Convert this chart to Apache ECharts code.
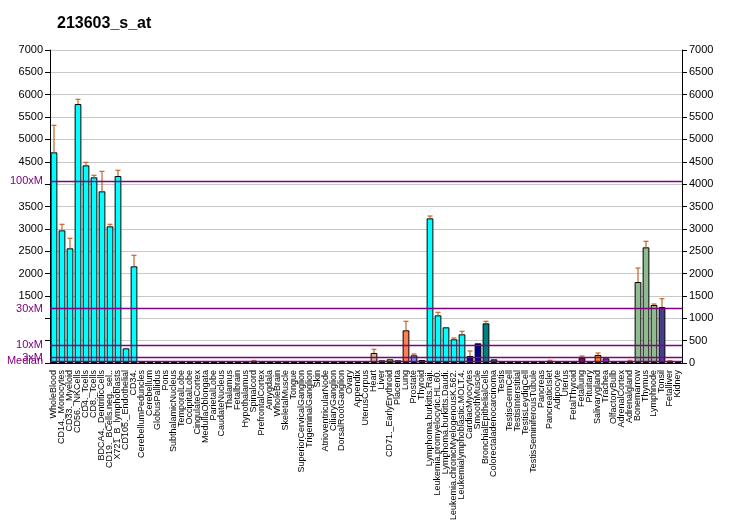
<!DOCTYPE html>
<html>
<head>
<meta charset="utf-8">
<script src="https://cdn.jsdelivr.net/npm/echarts@6/dist/echarts.min.js"></script>
<style>html,body{margin:0;padding:0;background:#fff;}#c{width:732px;height:530px;}</style>
</head>
<body>
<div id="c"></div>
<script>
const title = "213603_s_at";
const categories = ["WholeBlood","CD14._Monocytes","CD33._Myeloid","CD56._NKCells","CD4._Tcells","CD8._Tcells","BDCA4._DentriticCells","CD19._BCells.neg._sel..","X721_B_lymphoblasts","CD105._Endothelial","CD34.","CerebellumPeduncles","Cerebellum","GlobusPallidus","Pons","SubthalamicNucleus","TemporalLobe","OccipitalLobe","CingulateCortex","MedullaOblongata","ParietalLobe","CaudateNucleus","Thalamus","Fetalbrain","Hypothalamus","Spinalcord","PrefrontalCortex","Amygdala","WholeBrain","SkeletalMuscle","Tongue","SuperiorCervicalGanglion","TrigeminalGanglion","Skin","AtrioventricularNode","CiliaryGanglion","DorsalRootGanglion","Ovary","Appendix","UterusCorpus","Heart","Liver","CD71._EarlyErythroid","Placenta","Lung","Prostate","Thyroid","Lymphoma.burkitts.Raji.","Leukemia.promyelocytic.HL.60.","Lymphoma.burkitts.Daudi.","Leukemia.chronicMyelogenousK.562.","Leukemialymphoblastic.MOLT.4.","CardiacMyocytes","SmoothMuscle","BronchialEpithelialCells","Colorectaladenocarcinoma","Testis","TestisGermCell","TestisInterstitial","TestisLeydigCell","TestisSeminiferousTubule","Pancreas","PancreaticIslet","Adipocyte","Uterus","FetalThyroid","Fetallung","Pituitary","Salivarygland","Trachea","OlfactoryBulb","AdrenalCortex","Adrenalgland","Bonemarrow","Thymus","Lymphnode","Tonsil","Fetalliver","Kidney"];
const values = [4711,2967,2565,5791,4420,4152,3839,3056,4181,328,2162,
  30,25,28,30,35,25,28,30,26,28,30,27,28,30,38,28,35,30,28,26,30,27,28,26,30,28,27,30,35,
  224,60,83,60,731,172,67,3235,1066,798,530,641,156,440,887,82,
  30,25,25,28,25,22,28,30,30,35,119,30,179,105,30,28,30,1811,2587,1297,1252,28,22];
const errorTops = [5315,3101,2788,5896,4487,4197,4286,3101,4308,null,2408,
  null,null,null,null,null,null,null,null,null,null,null,null,null,null,55,null,null,null,null,null,null,null,null,null,null,null,null,null,null,
  306,null,null,null,932,201,null,3287,1133,null,559,708,268,null,932,null,
  null,null,null,null,null,null,60,null,null,null,156,null,224,null,null,null,60,2124,2721,1319,1438,52,null];
const colors = ["#00ffff","#00ffff","#00ffff","#00ffff","#00ffff","#00ffff","#00ffff","#00ffff","#00ffff","#00ffff","#00ffff",
  "#8b4513","#a0522d","#6b8e23","#556b2f","#228b22","#8b4513","#a0522d","#6b8e23","#556b2f","#8b4513","#a0522d","#6b8e23","#556b2f","#8b4513","#a0522d","#556b2f","#228b22","#8b4513","#a0522d","#6b8e23","#556b2f","#8b4513","#a0522d","#6b8e23","#556b2f","#8b4513","#a0522d","#6b8e23","#cd853f",
  "#deb887","#778899","#7cfc00","#e9692c","#ff7f50","#7b8cee","#dc143c","#00ffff","#00ffff","#00ffff","#00ffff","#00ffff","#000080","#00008b","#008080","#008080",
  "#800000","#800000","#800000","#800000","#800000","#8b0000","#cd5c5c","#40e0d0","#d2b48c","#8b008b","#800080","#556b2f","#ff8c00","#9932cc","#2f4f4f","#4b0082","#cd5c5c","#8fbc8f","#8fbc8f","#8fbc8f","#483d8b","#8b4513","#4b0082"];
const medianValue = 40.6;
const medianMultiples = [1, 3, 10, 30, 100];
const medianLabels = ["Median", "3xM", "10xM", "30xM", "100xM"];
const hiddenLeftTicks = [0, 500, 1000, 4000];

const chart = echarts.init(document.getElementById('c'));
const font = 'Arial, "Liberation Sans", sans-serif';
const errData = [];
errorTops.forEach((e, i) => { if (e !== null) errData.push([i, e, values[i]]); });

chart.setOption({
  animation: false,
  title: { text: title, left: 52, top: 11, textStyle: { fontFamily: font, fontSize: 16, fontWeight: 'bold', color: '#000' } },
  grid: { left: 50, right: 50, top: 50, bottom: 167 },
  xAxis: {
    type: 'category', data: categories,
    axisLine: { lineStyle: { color: '#000', width: 1 } },
    axisTick: { interval: 0, length: 5, lineStyle: { color: '#000' } },
    axisLabel: { interval: 0, rotate: 90, fontFamily: font, fontSize: 9, color: '#000', margin: 7 }
  },
  yAxis: [
    { type: 'value', min: 0, max: 7000, interval: 500, position: 'left',
      axisLine: { show: true, lineStyle: { color: '#000' } },
      axisTick: { show: true, length: 5, lineStyle: { color: '#000' } },
      splitLine: { show: true, lineStyle: { color: '#c8c8c8', width: 1 } },
      axisLabel: { fontFamily: font, fontSize: 11, color: '#000', margin: 7,
        formatter: v => hiddenLeftTicks.includes(v) ? '' : String(v) } },
    { type: 'value', min: 0, max: 7000, interval: 500, position: 'right',
      axisLine: { show: true, lineStyle: { color: '#000' } },
      axisTick: { show: true, length: 5, lineStyle: { color: '#000' } },
      splitLine: { show: false },
      axisLabel: { fontFamily: font, fontSize: 11, color: '#000', margin: 7, formatter: v => String(v) } }
  ],
  series: [
    { type: 'bar', data: values.map((v, i) => ({ value: v, itemStyle: { color: colors[i] } })),
      barCategoryGap: '16%',
      itemStyle: { borderColor: '#000', borderWidth: 1 }, z: 2 },
    { type: 'custom', data: errData, z: 3,
      renderItem: (params, api) => {
        const x = api.value(0);
        const top = api.coord([x, api.value(1)]);
        const bot = api.coord([x, api.value(2)]);
        const st = { stroke: '#c8703a', lineWidth: 1.3 };
        return { type: 'group', children: [
          { type: 'line', shape: { x1: top[0], y1: top[1], x2: bot[0], y2: bot[1] }, style: st },
          { type: 'line', shape: { x1: top[0] - 2.5, y1: top[1], x2: top[0] + 2.5, y2: top[1] }, style: st }
        ] };
      } },
    { type: 'line', data: [], z: 5,
      markLine: { silent: true, symbol: 'none',
        lineStyle: { color: '#800080', width: 1.3, type: 'solid' },
        label: { position: 'start', distance: 7, color: '#800080', fontFamily: font, fontSize: 11,
          formatter: p => p.name },
        data: medianMultiples.map((m, i) => ({ yAxis: m * medianValue, name: medianLabels[i] })) } }
  ]
});
</script>
</body>
</html>
